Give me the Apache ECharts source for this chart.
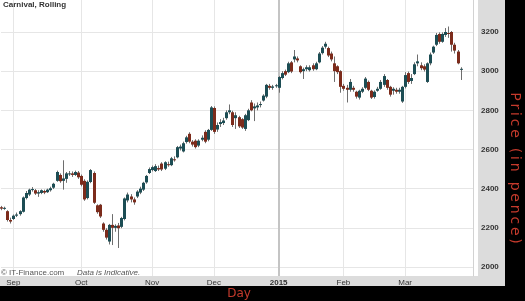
<!DOCTYPE html>
<html><head><meta charset="utf-8">
<script src="https://cdn.jsdelivr.net/npm/echarts@6/dist/echarts.min.js"></script>
<style>html,body{margin:0;padding:0;background:#fff}#c{width:525px;height:301px}</style>
</head><body><div id="c"></div>
<script>
// ---- data (pence), one entry per trading day starting 2014-08-26 ----
const openP  = [2305,2298,2285,2240,2245,2262,2270,2282,2352,2370,2395,2392,2375,2378,2388,2382,2392,2405,2440,2470,
2440,2450,2475,2478,2470,2482,2465,2440,2352,2434,2480,2315,2318,2222,2190,2130,2215,2200,2212,2205,
2245,2340,2360,2345,2360,2380,2395,2432,2480,2495,2490,2505,2528,2502,2525,2520,2550,2560,2605,2590,
2638,2680,2640,2645,2620,2650,2690,2650,2700,2812,2702,2730,2735,2760,2790,2790,2760,2765,2755,2705,
2750,2840,2810,2815,2828,2850,2870,2925,2915,2925,2915,2965,3000,2995,3045,3060,3065,3025,3000,3010,
3005,3030,3010,3045,3092,3125,3118,3090,3040,3025,3000,2925,2915,2905,2915,2895,2865,2895,2915,2945,
2900,2868,2900,2910,2930,2955,2920,2900,2905,2895,2845,2920,2990,2950,2985,3040,3030,3025,2945,3040,
3095,3135,3190,3150,3185,3195,3200,3135,3100,3010];
const closeP = [2298,2302,2240,2232,2262,2268,2285,2355,2378,2395,2398,2375,2382,2392,2380,2395,2402,2425,2485,2438,
2452,2478,2478,2470,2485,2458,2420,2345,2435,2495,2328,2280,2258,2190,2150,2215,2200,2210,2198,2250,
2350,2370,2345,2330,2385,2400,2430,2465,2500,2510,2515,2498,2498,2535,2520,2555,2545,2612,2615,2632,
2662,2640,2625,2612,2645,2660,2640,2700,2815,2690,2725,2740,2748,2790,2800,2725,2775,2718,2712,2775,
2800,2800,2820,2825,2832,2875,2930,2915,2922,2928,2970,2990,2982,3040,2998,3075,3055,2995,3010,3020,
3020,3010,3040,3090,3120,3140,3080,3060,3000,2995,2920,2910,2905,2945,2905,2870,2900,2910,2962,2905,
2865,2895,2910,2945,2975,2915,2880,2910,2895,2905,2920,2980,2945,2965,3035,3050,3015,3008,3040,3085,
3125,3185,3150,3190,3200,3190,3135,3105,3040,3012];
const lowP   = [2290,2292,2232,2222,2240,2255,2262,2278,2345,2362,2385,2368,2358,2372,2372,2378,2385,2398,2435,2430,
2395,2430,2465,2460,2465,2450,2412,2338,2345,2428,2322,2272,2250,2180,2140,2115,2112,2180,2097,2198,
2238,2330,2330,2318,2352,2372,2388,2425,2475,2488,2485,2490,2490,2495,2512,2515,2538,2555,2595,2585,
2630,2632,2615,2605,2612,2642,2632,2642,2695,2680,2690,2715,2725,2752,2780,2715,2705,2710,2705,2695,
2745,2795,2745,2800,2815,2845,2862,2905,2905,2915,2890,2958,2975,2990,2990,3045,3045,2988,2960,3000,
2998,3002,3005,3040,3085,3115,3072,3050,2945,2985,2890,2900,2840,2895,2895,2860,2855,2888,2908,2898,
2858,2860,2895,2905,2920,2905,2870,2880,2885,2885,2838,2912,2935,2935,2980,3025,3005,2998,2940,3030,
3088,3128,3140,3145,3175,3170,3100,3090,3035,2955];
const highP  = [2312,2308,2290,2252,2268,2278,2290,2360,2388,2400,2408,2398,2392,2396,2395,2400,2410,2430,2492,2478,
2545,2485,2490,2488,2492,2490,2472,2448,2442,2500,2488,2320,2322,2228,2198,2220,2270,2218,2225,2256,
2355,2380,2372,2355,2392,2410,2435,2470,2508,2518,2525,2518,2535,2540,2538,2562,2565,2618,2625,2640,
2670,2688,2648,2652,2652,2672,2698,2705,2822,2820,2738,2755,2762,2800,2830,2798,2790,2772,2760,2782,
2808,2852,2835,2840,2845,2882,2935,2935,2930,2935,2975,3000,3008,3048,3052,3108,3075,3030,3018,3030,
3030,3040,3048,3098,3128,3150,3125,3100,3075,3030,3005,2935,2930,2960,2925,2900,2905,2918,2970,2952,
2905,2902,2920,2955,2985,2960,2925,2918,2915,2915,2925,2995,2998,2985,3045,3085,3045,3035,3045,3095,
3130,3195,3198,3198,3220,3228,3205,3145,3108,3020];

const yTickValues = [2000, 2200, 2400, 2600, 2800, 3000, 3200];
// label shown at the first trading day of each month (index = month - 1)
const monthTickLabels = ['2015','Feb','Mar','Apr','May','Jun','Jul','Aug','Sep','Oct','Nov','Dec'];
const firstTradingDay = [2014, 7, 26];
const marketHolidays = ['2014-12-25', '2014-12-26', '2015-01-01'];
const emptySlots = 4;

// ---- categories: trading days ----
function buildTradingDays(n) {
  const out = [];
  const d = new Date(Date.UTC(firstTradingDay[0], firstTradingDay[1], firstTradingDay[2]));
  while (out.length < n) {
    const dow = d.getUTCDay();
    const s = d.toISOString().slice(0, 10);
    if (dow !== 0 && dow !== 6 && marketHolidays.indexOf(s) < 0) out.push(s);
    d.setUTCDate(d.getUTCDate() + 1);
  }
  return out;
}
const days = buildTradingDays(closeP.length);
const categories = days.concat(new Array(emptySlots).fill(''));

function isMonthStart(idx) {
  if (idx <= 0 || idx >= days.length) return false;
  return days[idx].slice(5, 7) !== days[idx - 1].slice(5, 7);
}
const yearLineIndex = days.indexOf('2015-01-02');

const candleData = closeP.map((c, i) => [i, openP[i], c, lowP[i], highP[i]]);

const UP = '#1c4d54', DOWN = '#7c2b1b', WICK = '#6e6e6e';
const FONT = '"Liberation Sans", Arial, sans-serif';
const spaced = (s) => s.split('').join('\u2009');

const chart = echarts.init(document.getElementById('c'), null, { renderer: 'canvas' });
chart.setOption({
  backgroundColor: '#ffffff',
  animation: false,
  grid: { left: 1, right: 52, top: 0, bottom: 25, containLabel: false },
  xAxis: {
    type: 'category', data: categories, boundaryGap: false,
    axisLine: { show: false }, axisTick: { show: false },
    axisLabel: {
      interval: (idx) => isMonthStart(idx),
      formatter: (val) => {
        const m = parseInt(val.slice(5, 7), 10) - 1;
        const t = monthTickLabels[m];
        return m === 0 ? '{b|' + t + '}' : t;
      },
      margin: 3, color: '#333', fontSize: 8, fontFamily: FONT,
      rich: { b: { fontWeight: 'bold', fontSize: 8, fontFamily: FONT, color: '#333' } }
    },
    splitLine: { show: true, interval: (idx) => isMonthStart(idx), lineStyle: { color: '#e6e6e6', width: 1 } }
  },
  yAxis: {
    type: 'value', position: 'right', min: 1954, max: 3363.4, scale: true,
    axisLine: { show: true, lineStyle: { color: '#d2d2d2', width: 1 } },
    axisTick: { show: false, customValues: yTickValues },
    axisLabel: { customValues: yTickValues, formatter: (v) => String(v), margin: 8, color: '#333', fontSize: 8, fontWeight: 'bold', fontFamily: FONT },
    splitLine: { show: true, lineStyle: { color: '#e6e6e6', width: 1 } }
  },
  series: [{
    type: 'custom',
    data: candleData,
    encode: { x: 0, y: [1, 2, 3, 4] },
    z: 2,
    renderItem: function (params, api) {
      const i = api.value(0);
      const o = api.value(1), c = api.value(2), l = api.value(3), h = api.value(4);
      const pO = api.coord([i, o]), pC = api.coord([i, c]);
      const pL = api.coord([i, l]), pH = api.coord([i, h]);
      const x = Math.round(pO[0]);
      const top = Math.min(pO[1], pC[1]), bot = Math.max(pO[1], pC[1]);
      return {
        type: 'group',
        children: [
          { type: 'line', shape: { x1: x + 0.5, y1: pH[1], x2: x + 0.5, y2: pL[1] }, style: { stroke: WICK, lineWidth: 1 } },
          { type: 'rect', shape: { x: x - 1, y: top, width: 3, height: Math.max(bot - top, 1) }, style: { fill: c >= o ? UP : DOWN } }
        ]
      };
    },
    markLine: {
      silent: true, z: 1, symbol: ['none', 'none'], label: { show: false },
      lineStyle: { color: '#c4c4c4', width: 2, type: 'solid' },
      data: [{ xAxis: yearLineIndex }]
    }
  }],
  graphic: { elements: [
    { type: 'rect', z: -10, shape: { x: 478, y: 0, width: 27, height: 286 }, style: { fill: '#dcdcdc' } },
    { type: 'rect', z: -10, shape: { x: 0, y: 276, width: 505, height: 10 }, style: { fill: '#dcdcdc' } },
    { type: 'rect', z: -10, shape: { x: 505, y: 0, width: 20, height: 301 }, style: { fill: '#000' } },
    { type: 'rect', z: -10, shape: { x: 0, y: 286, width: 525, height: 15 }, style: { fill: '#000' } },
    { type: 'text', z: 100, x: 3, y: 5, style: { text: 'Carnival, Rolling', fill: '#333', font: 'bold 8px ' + FONT, verticalAlign: 'middle' } },
    { type: 'text', z: 100, x: 1, y: 272.5, style: { text: '© IT-Finance.com', fill: '#555', font: '8px ' + FONT, verticalAlign: 'middle' } },
    { type: 'text', z: 100, x: 77, y: 272.5, style: { text: 'Data is Indicative.', fill: '#555', font: 'italic 8px ' + FONT, verticalAlign: 'middle' } },
    { type: 'text', z: 100, x: 239, y: 294, style: { text: 'Day', fill: '#c43a2c', font: '12px "DejaVu Sans", sans-serif', align: 'center', verticalAlign: 'middle' } },
    { type: 'text', z: 100, x: 515, y: 168, rotation: -Math.PI / 2, style: { text: spaced('Price (in pence)'), fill: '#c43a2c', font: '14px "DejaVu Sans", sans-serif', align: 'center', verticalAlign: 'middle' } }
  ] }
});
</script>
</body></html>
